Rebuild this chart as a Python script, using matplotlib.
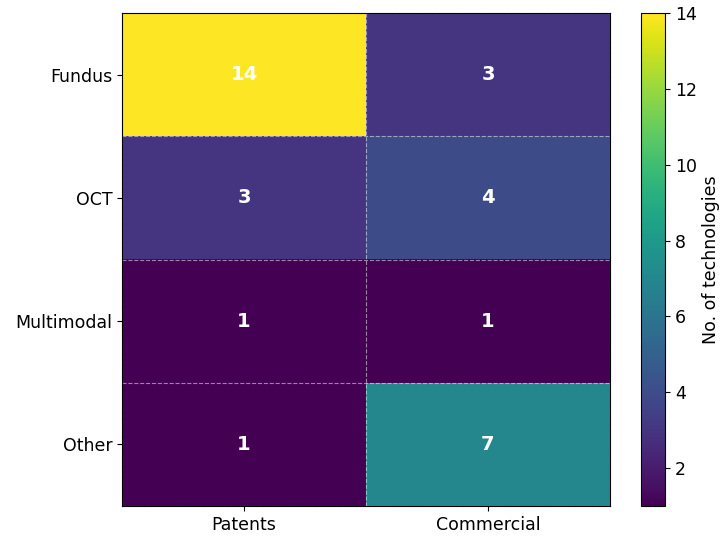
import matplotlib
matplotlib.use("Agg")
import matplotlib.pyplot as plt
import numpy as np

# counts per modality
modalities = ["Fundus", "OCT", "Multimodal", "Other"]
sources = ["Patents", "Commercial"]
patents = [14, 3, 1, 1]
commercial = [3, 4, 1, 7]

counts = np.array([patents, commercial]).T

fig = plt.figure(figsize=(7.24, 5.38), dpi=100)
ax = fig.add_axes([122 / 724, 1 - 506 / 538, 488 / 724, 493 / 538])
cax = fig.add_axes([641 / 724, 1 - 506 / 538, 24 / 724, 493 / 538])

im = ax.imshow(counts, cmap="viridis", aspect="auto", vmin=counts.min(), vmax=counts.max())

ax.set_xticks(range(len(sources)))
ax.set_xticklabels(sources, fontsize=12.5)
ax.set_yticks(range(len(modalities)))
ax.set_yticklabels(modalities, fontsize=12.5)

# dashed cell borders
ax.set_xticks(np.arange(-0.5, len(sources), 1), minor=True)
ax.set_yticks(np.arange(-0.5, len(modalities), 1), minor=True)
ax.grid(which="minor", color="white", linestyle="--", linewidth=0.8, alpha=0.5)
ax.tick_params(which="minor", length=0)

for i in range(len(modalities)):
    for j in range(len(sources)):
        ax.text(j, i, str(counts[i, j]), ha="center", va="center",
                color="white", fontsize=14, fontweight="bold")

cb = fig.colorbar(im, cax=cax)
cb.set_label("No. of technologies", fontsize=12.5)
cb.ax.tick_params(labelsize=12.5)

fig.savefig("out.png", dpi=100)
